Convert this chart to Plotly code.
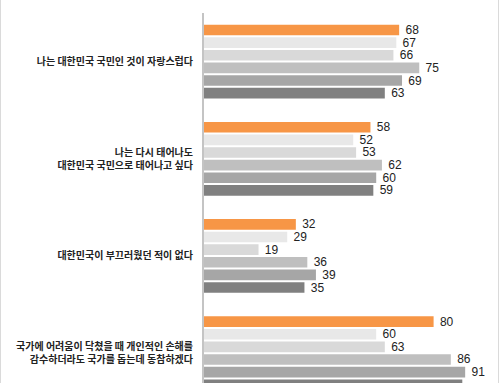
import plotly.graph_objects as go

categories = [
    "나는 대한민국 국민인 것이 자랑스럽다",
    "나는 다시 태어나도<br>대한민국 국민으로 태어나고 싶다",
    "대한민국이 부끄러웠던 적이 없다",
    "국가에 어려움이 닥쳤을 때 개인적인 손해를<br>감수하더라도 국가를 돕는데 동참하겠다",
]
series_names = ["계열1", "계열2", "계열3", "계열4", "계열5", "계열6"]
series_values = [
    [68, 58, 32, 80],
    [67, 52, 29, 60],
    [66, 53, 19, 63],
    [75, 62, 36, 86],
    [69, 60, 39, 91],
    [63, 59, 35, 90],
]
colors = ["#F79646", "#E8E8E8", "#D9D9D9", "#BFBFBF", "#A6A6A6", "#808080"]

fig = go.Figure()
for name, vals, col in zip(series_names, series_values, colors):
    fig.add_trace(go.Bar(
        y=categories, x=vals, name=name, orientation="h",
        marker=dict(color=col, line=dict(width=0)),
        text=["\u00a0" + str(v) for v in vals], textposition="outside",
        textfont=dict(family="Liberation Sans, Arial", size=12, color="#222222"),
        cliponaxis=False, constraintext="none",
        hoverinfo="skip",
    ))

L, R, T = 204, 9, 13
fig.update_layout(
    width=500, height=383,
    margin=dict(l=L, r=R, t=T, b=0, pad=0, autoexpand=False),
    paper_bgcolor="white", plot_bgcolor="white",
    barmode="group", bargap=0.22, bargroupgap=0.16,
    showlegend=False,
    xaxis=dict(range=[0, 100], visible=False, fixedrange=True, automargin=False),
    yaxis=dict(
        type="category", range=[3.307, -0.5], automargin=False, fixedrange=True,
        showline=True, linecolor="#C4C4C4", linewidth=2,
        showgrid=False, ticks="", ticklabelstandoff=7,
        tickfont=dict(family="Noto Sans CJK KR", size=10, color="#222222", weight=600),
    ),
)
pw = 500 - L - R
for px in (0.5, 498.5):
    xp = (px - L) / pw
    fig.add_shape(type="line", xref="paper", yref="paper", x0=xp, x1=xp,
                  y0=-0.1, y1=1.1, line=dict(color="#DADADA", width=1))

fig.write_html(
    "out.html",
    config={"displayModeBar": False, "staticPlot": True},
    post_script="document.body.style.margin='0';document.body.style.overflow='hidden';",
)
